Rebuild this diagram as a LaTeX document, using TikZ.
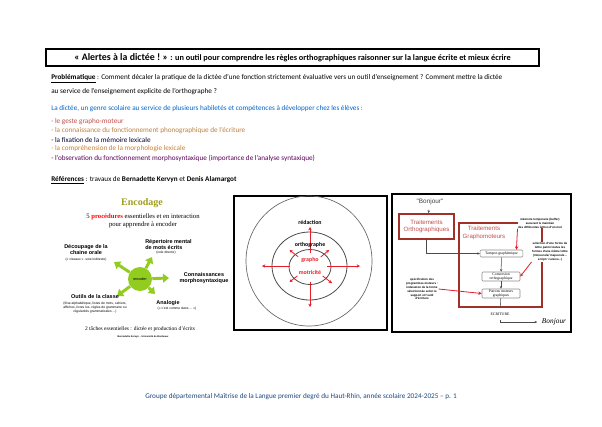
\documentclass[tikz,border=0pt]{standalone}
\usepackage{fontspec}
\setmainfont{Carlito}
\newfontfamily\timesfont{Liberation Serif}
\newfontfamily\arialfont{Liberation Sans}
\usetikzlibrary{arrows.meta,positioning}
\definecolor{olivetitle}{RGB}{158,158,28}
\definecolor{leafgreen}{RGB}{146,204,30}
\definecolor{brickred}{RGB}{160,48,40}
\definecolor{softred}{RGB}{192,80,77}
\definecolor{arrowred}{RGB}{228,30,40}
\definecolor{textblue}{RGB}{0,102,204}
\definecolor{footblue}{RGB}{31,73,125}
\newcommand{\fsz}[2][1.2]{\fontsize{#2}{#1\dimexpr #2pt\relax}\selectfont}

\begin{document}
\begin{tikzpicture}[x=0.75pt,y=-0.75pt,
  txtline/.style={inner sep=0pt,anchor=west,font=\fsz{5.4}},
  lbl/.style={inner sep=0pt,align=center,font=\arialfont\bfseries\fsz[1.1]{4.1}},
  smallnote/.style={inner sep=0pt,align=center,font=\arialfont\fsz[1.3]{2.5}},
  tinynote/.style={inner sep=0.3pt,align=center,font=\arialfont\bfseries\fsz[1.35]{2.2}},
  grnarrow/.style={leafgreen,line width=2.2pt,-{Triangle[length=4.5pt,width=6.5pt]}},
  redarrow/.style={arrowred,line width=0.6pt,-{Stealth[length=2.5pt,width=2.5pt]}},
  gline/.style={black!70,line width=0.4pt,-{Stealth[length=2pt,width=1.8pt]}},
  gbox/.style={draw=black!45,rounded corners=0.8pt,fill=white,inner sep=0.5pt,align=center,font=\timesfont\fsz[1.1]{2.8}}]
\useasboundingbox[fill=white] (0,0) rectangle (602,426);

% en-tete
\node[draw,line width=0.8pt,minimum width=369.75pt,minimum height=12.75pt,inner sep=0pt] (title) at (292.5,57.5)
  {\bfseries{\fsz{7.4}«~Alertes à la dictée !~»}\fsz{6.2} : un outil pour comprendre les règles orthographiques raisonner sur la langue écrite et mieux écrire};

% texte
\node[txtline] (probl1) at (51,79) {\underline{\textbf{Problématique}} : Comment décaler la pratique de la dictée d’une fonction strictement évaluative vers un outil d’enseignement ? Comment mettre la dictée};
\node[txtline] (probl2) at (51,92) {au service de l’enseignement explicite de l’orthographe ?};
\node[txtline,text=textblue] (intro) at (51,109) {La dictée, un genre scolaire au service de plusieurs habiletés et compétences à développer chez les élèves :};
\node[txtline,text=softred] (item1) at (51,122) {- le geste grapho-moteur};
\node[txtline,text=brown] (item2) at (51,131) {- la connaissance du fonctionnement phonographique de l’écriture};
\node[txtline,text=black!80!blue] (item3) at (51,140) {- la fixation de la mémoire lexicale};
\node[txtline,text=brown!80!orange] (item4) at (51,149) {- la compréhension de la morphologie lexicale};
\node[txtline,text=violet!70!black] (item5) at (51,158) {- l’observation du fonctionnement morphosyntaxique (importance de l’analyse syntaxique)};
\node[txtline] (refs) at (51,180) {\underline{\textbf{Références}} : travaux de \textbf{Bernadette Kervyn} et \textbf{Denis Alamargot}};

% encodage
\node[font=\timesfont\bfseries\fsz{7.5},text=olivetitle] (encodage) at (142,203) {Encodage};
\node[font=\timesfont\fsz{5},align=center] (procedures) at (143,221)
  {5 \textcolor{red}{\bfseries procédures} essentielles et en interaction\\pour apprendre à encoder};
\node[circle,fill=leafgreen,minimum size=18pt,inner sep=0pt,font=\arialfont\fsz{2.8}] (encoder) at (140,279) {encoder};
\coordinate (tipdec) at (114,262);
\coordinate (tiprep) at (152,257);
\coordinate (tipcon) at (169,278);
\coordinate (tipout) at (117,296);
\coordinate (tipana) at (155,294);
\foreach \tip in {tipdec,tiprep,tipcon,tipout,tipana}
  \draw[grnarrow] (encoder) -- (\tip);
\node[lbl] (decoupage) at (86,250) {Découpage de la\\chaine orale};
\node[smallnote] (decnote) at (86,260) {(« ciseaux » -voie indirecte)};
\node[lbl,align=left,anchor=west] (repertoire) at (145,244.5) {Répertoire mental\\de mots écrits};
\node[smallnote] (repnote) at (166,252.5) {(voie directe)};
\node[lbl] (connaissances) at (204,278) {Connaissances\\morphosyntaxique};
\node[lbl] (outils) at (95,297) {Outils de la classe};
\node[smallnote] (outnote) at (95,307.5) {(frise alphabétique, listes de mots, cahiers,\\affiches, livres lus, règles de grammaire ou\\régularités grammaticales ...)};
\node[lbl] (analogie) at (168,303) {Analogie};
\node[smallnote] (ananote) at (177,309) {(« c’est comme dans ... »)};
\node[font=\timesfont\fsz{4.1}] (taches) at (140,329) {2 tâches essentielles : dictée et production d’écrits};
\node[font=\arialfont\bfseries\fsz{1.8}] (auteur) at (143,337) {Bernadette Kervyn – Université de Bordeaux};

% cercles
\draw[line width=0.8pt] (234,196) rectangle (387,330);
\coordinate (ctr) at (310,266);
\draw[black!60,line width=0.5pt] (309,261) ellipse [x radius=63,y radius=65];
\draw[black!70,line width=0.6pt] (309.5,266) ellipse [x radius=37.5,y radius=34];
\draw[black!70,line width=0.6pt] (310,267) ellipse [x radius=21,y radius=17.5];
\foreach \ang/\ra/\rb in {270/13/39,90/16/41,180/20/48,0/17/50,218/15/26,320/14/25,142/16/26,38/16/28}
  \draw[redarrow] ([shift={(\ang:\ra)}]ctr) -- ([shift={(\ang:\rb)}]ctr);
\node[font=\bfseries\fsz{4.4}] (redaction) at (310,222) {rédaction};
\node[font=\bfseries\fsz{4.4}] (orthographe) at (310,245) {orthographe};
\node[font=\bfseries\fsz{4.4},text=arrowred] (grapho) at (310,260) {grapho};
\node[font=\bfseries\fsz{4.4},text=arrowred] (motricite) at (310,272) {motricité};

% traitements
\draw[line width=0.8pt] (392,194) rectangle (571,332);
\node[font=\arialfont\fsz{4.8},text=black!75] (bonjourtop) at (430,202) {"Bonjour"};
\node[draw=brickred,line width=1.4pt,minimum width=41.25pt,minimum height=18.75pt,inner sep=0pt,
  text=softred,align=center,font=\arialfont\fsz{4.6}] (ortho) at (426.5,226.5) {Traitements\\Orthographiques};
\draw[brickred,line width=1.4pt] (459,223) rectangle (542,307);
\node[text=softred,align=center,font=\arialfont\fsz{4.6}] (graphomot) at (484,233) {Traitements\\Graphomoteurs};
\node[gbox,minimum width=32pt,minimum height=5.25pt] (tampon) at (501.5,253.5) {Tampon graphémique};
\node[gbox,minimum width=28.5pt,minimum height=6.75pt] (conversion) at (501,276.5) {Conversion\\orthographique};
\node[gbox,minimum width=28.5pt,minimum height=6.75pt] (patrons) at (501,293.5) {Patrons moteurs\\graphiques};
\node[font=\timesfont\fsz{2.9}] (ecriture) at (500,314) {ECRITURE};
\node[font=\timesfont\itshape\fsz{5.5}] (bonjourend) at (554,322) {Bonjour};
\node[tinynote,fill=white] (memoire) at (540,223) {mémoire temporaire (buffer)\\assurant le maintien\\des différentes lettres d’un mot};
\node[tinynote,fill=white] (selection) at (550,252) {sélection d’une forme de\\lettre parmi toutes les\\formes d’une même lettre\\(minuscule/ majuscule –\\script / cursive...)};
\node[tinynote] (specif) at (422,289) {spécification des\\programmes moteurs :\\indexation de la forme\\sélectionnée selon le\\support et l’outil\\d’écriture};
\draw[gline] (bonjourtop) -- (ortho);
\draw[gline] (ortho.south) |- (tampon.west);
\draw[gline] (tampon) -- (conversion);
\draw[gline] (conversion) -- (patrons);
\draw[black!70,line width=0.4pt] (patrons) -- (ecriture);
\draw[gline] (ecriture) |- (bonjourend);
\draw[redarrow] (memoire.south west) -- ([xshift=-5pt]tampon.north east);
\draw[redarrow] (selection.south west) -- (conversion.east);
\draw[redarrow] (specif.east) -- (patrons.west);

% pied de page
\node[font=\fsz{5.4},text=footblue] (footer) at (301,397) {Groupe départemental Maîtrise de la Langue premier degré du Haut-Rhin, année scolaire 2024-2025 – p. 1};
\end{tikzpicture}
\end{document}
